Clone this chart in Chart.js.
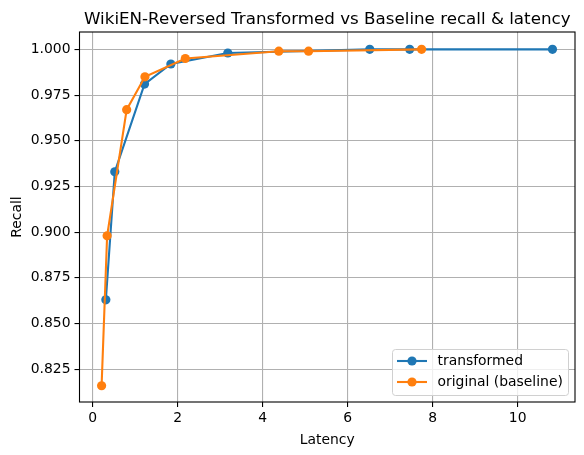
<!DOCTYPE html>
<html>
<head>
<meta charset="utf-8">
<script src="https://cdn.jsdelivr.net/npm/chart.js@4.4.1/dist/chart.umd.min.js"></script>
<style>
  html, body { margin: 0; padding: 0; background: #fff; }
  #wrap { width: 584px; height: 455px; }
</style>
</head>
<body>
<div id="wrap"><canvas id="recallChart" width="584" height="455"></canvas></div>
<script>
const chartTitle = 'WikiEN-Reversed Transformed vs Baseline recall & latency';

// transformed
const transformedLatency = [0.31, 0.52, 1.22, 1.84, 3.18, 6.52, 7.46, 10.82];
const transformedRecall = [0.863, 0.933, 0.981, 0.992, 0.998, 1.000, 1.000, 1.000];

// original (baseline)
const baselineLatency = [0.21, 0.34, 0.80, 1.23, 2.18, 4.38, 5.08, 7.74];
const baselineRecall = [0.816, 0.898, 0.967, 0.985, 0.995, 0.999, 0.999, 1.000];

const xTicks = [0, 2, 4, 6, 8, 10];
const yTicks = [0.825, 0.850, 0.875, 0.900, 0.925, 0.950, 0.975, 1.000];

const FONT = 'DejaVu Sans';
const MARKER = 4.6;

function toPoints(xs, ys) {
    return xs.map((x, i) => ({x: x, y: ys[i]}));
}

// frame round the plot area, like matplotlib's spines
const framePlugin = {
    id: 'frame',
    afterDatasetsDraw(chart) {
        const a = chart.chartArea;
        const ctx = chart.ctx;
        ctx.save();
        ctx.strokeStyle = '#000';
        ctx.lineWidth = 1.1;
        ctx.strokeRect(a.left, a.top, a.right - a.left, a.bottom - a.top);
        ctx.restore();
    }
};

// title centred over the plot area
const titlePlugin = {
    id: 'plotTitle',
    afterDraw(chart) {
        const a = chart.chartArea;
        const ctx = chart.ctx;
        ctx.save();
        ctx.fillStyle = '#000';
        ctx.font = '16.7px "' + FONT + '"';
        ctx.textAlign = 'center';
        ctx.textBaseline = 'alphabetic';
        ctx.fillText(chartTitle, (a.left + a.right) / 2, 24);
        ctx.restore();
    }
};

// legend box in the lower right corner
const legendPlugin = {
    id: 'boxLegend',
    afterDraw(chart) {
        const a = chart.chartArea;
        const ctx = chart.ctx;
        const w = 176, h = 46;
        const x0 = a.right - 6.5 - w;
        const y0 = a.bottom - 6.5 - h;
        ctx.save();
        ctx.fillStyle = 'rgba(255,255,255,0.8)';
        ctx.strokeStyle = '#d0d0d0';
        ctx.lineWidth = 1;
        ctx.beginPath();
        ctx.roundRect(x0, y0, w, h, 3);
        ctx.fill();
        ctx.stroke();
        ctx.font = '13.9px "' + FONT + '"';
        ctx.textBaseline = 'middle';
        chart.data.datasets.forEach((ds, i) => {
            const yy = y0 + 11.5 + i * 21;
            ctx.strokeStyle = ds.borderColor;
            ctx.lineWidth = 2.1;
            ctx.beginPath();
            ctx.moveTo(x0 + 4.5, yy);
            ctx.lineTo(x0 + 34.5, yy);
            ctx.stroke();
            ctx.fillStyle = ds.backgroundColor;
            ctx.beginPath();
            ctx.arc(x0 + 19.5, yy, MARKER, 0, Math.PI * 2);
            ctx.fill();
            ctx.fillStyle = '#000';
            ctx.fillText(ds.label, x0 + 45, yy);
        });
        ctx.restore();
    }
};

const ctx = document.getElementById('recallChart').getContext('2d');

new Chart(ctx, {
    type: 'line',
    data: {
        datasets: [
            {
                label: 'transformed',
                data: toPoints(transformedLatency, transformedRecall),
                borderColor: '#1f77b4',
                backgroundColor: '#1f77b4',
                borderWidth: 2.1,
                pointRadius: MARKER,
                pointBorderWidth: 0,
                pointHoverRadius: MARKER,
                tension: 0,
                order: 1
            },
            {
                label: 'original (baseline)',
                data: toPoints(baselineLatency, baselineRecall),
                borderColor: '#ff7f0e',
                backgroundColor: '#ff7f0e',
                borderWidth: 2.1,
                pointRadius: MARKER,
                pointBorderWidth: 0,
                pointHoverRadius: MARKER,
                tension: 0,
                order: 0
            }
        ]
    },
    options: {
        responsive: false,
        animation: false,
        devicePixelRatio: 1,
        layout: {
            padding: {left: 0, right: 9, top: 32, bottom: 0}
        },
        scales: {
            x: {
                type: 'linear',
                min: -0.31,
                max: 11.35,
                afterBuildTicks: (scale) => { scale.ticks = xTicks.map(v => ({value: v})); },
                afterFit: (scale) => { scale.height = 53; },
                ticks: {
                    color: '#000',
                    padding: 3,
                    font: {family: FONT, size: 13.9}
                },
                grid: {
                    color: '#b0b0b0',
                    lineWidth: 1.1,
                    tickLength: 5,
                    tickColor: '#000',
                    tickWidth: 1.1
                },
                border: {display: false},
                title: {
                    display: true,
                    text: 'Latency',
                    color: '#000',
                    padding: {top: 2, bottom: 6},
                    font: {family: FONT, size: 13.9}
                }
            },
            y: {
                type: 'linear',
                min: 0.8071,
                max: 1.0095,
                afterBuildTicks: (scale) => { scale.ticks = yTicks.map(v => ({value: v})); },
                afterFit: (scale) => { scale.width = 79.5; },
                ticks: {
                    color: '#000',
                    padding: 4,
                    font: {family: FONT, size: 13.9},
                    callback: (v) => Number(v).toFixed(3)
                },
                grid: {
                    color: '#b0b0b0',
                    lineWidth: 1.1,
                    tickLength: 5,
                    tickColor: '#000',
                    tickWidth: 1.1
                },
                border: {display: false},
                title: {
                    display: true,
                    text: 'Recall',
                    color: '#000',
                    padding: {top: 9, bottom: 4},
                    font: {family: FONT, size: 13.9}
                }
            }
        },
        plugins: {
            legend: {display: false},
            title: {display: false},
            tooltip: {enabled: false}
        }
    },
    plugins: [framePlugin, titlePlugin, legendPlugin]
});
</script>
</body>
</html>
